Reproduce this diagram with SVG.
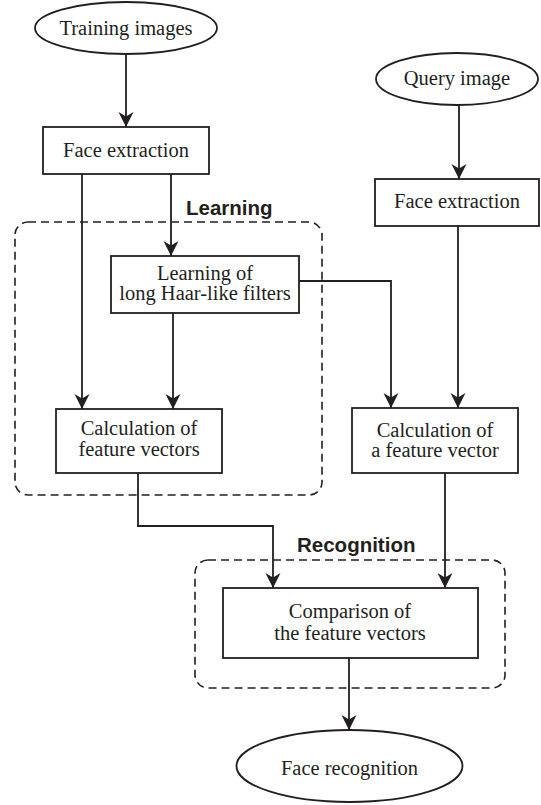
<svg xmlns="http://www.w3.org/2000/svg" width="541" height="805" viewBox="0 0 541 805">
<style>
.n{fill:#fff;stroke:#231f20;stroke-width:1.8}
.t{font-family:"Liberation Serif","Times New Roman",serif;font-size:20.5px;fill:#231f20;text-anchor:middle}
.g{fill:none;stroke:#231f20;stroke-width:1.6;stroke-dasharray:8 5}
.gl{font-family:"Liberation Sans",Arial,sans-serif;font-size:20.5px;font-weight:bold;fill:#231f20}
.c{fill:none;stroke:#231f20;stroke-width:1.8}
</style>
<defs>
<marker id="ah" viewBox="-15 -8 15 16" refX="0" refY="0" markerWidth="15" markerHeight="16" markerUnits="userSpaceOnUse" orient="auto">
<path d="M0,0 L-15,-7.5 L-10.5,0 L-15,7.5 Z" fill="#231f20"/>
</marker>
</defs>
<rect width="541" height="805" fill="#fff"/>
<g id="group-learning">
<rect class="g" x="15" y="222" width="307" height="273" rx="13"/>
<text class="gl" x="186" y="215">Learning</text>
</g>
<g id="group-recognition">
<rect class="g" x="195" y="560" width="310" height="128" rx="13"/>
<text class="gl" x="297" y="552">Recognition</text>
</g>
<g id="connectors">
<path class="c" d="M126,53 L126,127" marker-end="url(#ah)"/>
<path class="c" d="M82,174 L82,409" marker-end="url(#ah)"/>
<path class="c" d="M171,174 L171,256" marker-end="url(#ah)"/>
<path class="c" d="M173,313 L173,409" marker-end="url(#ah)"/>
<path class="c" d="M299,281 L391,281 L391,408" marker-end="url(#ah)"/>
<path class="c" d="M459,105 L459,179" marker-end="url(#ah)"/>
<path class="c" d="M458,226 L458,408" marker-end="url(#ah)"/>
<path class="c" d="M138,473 L138,526 L273,526 L273,588" marker-end="url(#ah)"/>
<path class="c" d="M445,473 L445,588" marker-end="url(#ah)"/>
<path class="c" d="M349,658 L349,730" marker-end="url(#ah)"/>
</g>
<g id="training-images">
<ellipse class="n" cx="126" cy="28" rx="91" ry="26"/>
<text class="t" x="126" y="35">Training images</text>
</g>
<g id="face-extraction-1">
<rect class="n" x="43" y="127" width="166" height="47"/>
<text class="t" x="126" y="157">Face extraction</text>
</g>
<g id="query-image">
<ellipse class="n" cx="457" cy="79" rx="81" ry="26"/>
<text class="t" x="457" y="85">Query image</text>
</g>
<g id="face-extraction-2">
<rect class="n" x="375" y="179" width="164" height="47"/>
<text class="t" x="457" y="208">Face extraction</text>
</g>
<g id="learning-haar">
<rect class="n" x="111" y="256" width="188" height="57"/>
<text class="t" x="205" y="280">Learning of</text>
<text class="t" x="205" y="300">long Haar-like filters</text>
</g>
<g id="calc-vectors">
<rect class="n" x="56" y="409" width="166" height="64"/>
<text class="t" x="139" y="435">Calculation of</text>
<text class="t" x="139" y="456">feature vectors</text>
</g>
<g id="calc-vector">
<rect class="n" x="352" y="408" width="166" height="65"/>
<text class="t" x="435" y="437">Calculation of</text>
<text class="t" x="435" y="457">a feature vector</text>
</g>
<g id="comparison">
<rect class="n" x="223" y="588" width="255" height="70"/>
<text class="t" x="350" y="618">Comparison of</text>
<text class="t" x="350" y="640">the feature vectors</text>
</g>
<g id="face-recognition">
<ellipse class="n" cx="349.5" cy="766" rx="113" ry="36"/>
<text class="t" x="349.5" y="775">Face recognition</text>
</g>
</svg>
